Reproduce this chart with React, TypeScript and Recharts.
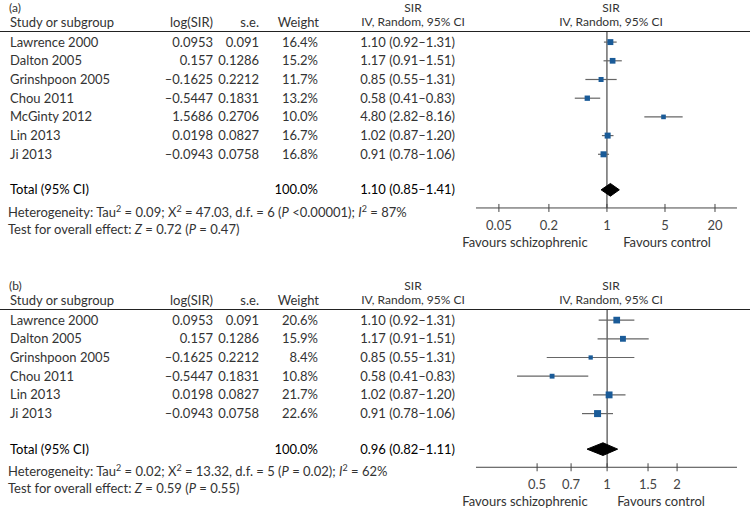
import React from 'react';
import { ScatterChart, Scatter, XAxis, YAxis, ReferenceLine } from 'recharts';

// panel (a): all studies
const studiesA = ['Lawrence 2000', 'Dalton 2005', 'Grinshpoon 2005', 'Chou 2011', 'McGinty 2012', 'Lin 2013', 'Ji 2013'];
const logSirA = [0.0953, 0.157, -0.1625, -0.5447, 1.5686, 0.0198, -0.0943];
const seA = [0.091, 0.1286, 0.2212, 0.1831, 0.2706, 0.0827, 0.0758];
const weightA = [16.4, 15.2, 11.7, 13.2, 10.0, 16.7, 16.8];
const sirA = [1.1, 1.17, 0.85, 0.58, 4.8, 1.02, 0.91];
const lowA = [0.92, 0.91, 0.55, 0.41, 2.82, 0.87, 0.78];
const highA = [1.31, 1.51, 1.31, 0.83, 8.16, 1.2, 1.06];
const totalA = [1.1, 0.85, 1.41];
const ticksA = [0.05, 0.2, 1, 5, 20];
const domainA = [0.0265, 36.8];
const hetA = { tau2: '0.09', chi2: '47.03', df: '6', p: '<0.00001', i2: '87%', z: '0.72', pz: '0.47' };

// panel (b): McGinty 2012 left out
const studiesB = ['Lawrence 2000', 'Dalton 2005', 'Grinshpoon 2005', 'Chou 2011', 'Lin 2013', 'Ji 2013'];
const logSirB = [0.0953, 0.157, -0.1625, -0.5447, 0.0198, -0.0943];
const seB = [0.091, 0.1286, 0.2212, 0.1831, 0.0827, 0.0758];
const weightB = [20.6, 15.9, 8.4, 10.8, 21.7, 22.6];
const sirB = [1.1, 1.17, 0.85, 0.58, 1.02, 0.91];
const lowB = [0.92, 0.91, 0.55, 0.41, 0.87, 0.78];
const highB = [1.31, 1.51, 1.31, 0.83, 1.2, 1.06];
const totalB = [0.96, 0.82, 1.11];
const ticksB = [0.5, 0.7, 1, 1.5, 2];
const domainB = [0.273, 3.62];
const hetB = { tau2: '0.02', chi2: '13.32', df: '5', p: '= 0.02', i2: '62%', z: '0.59', pz: '0.55' };

const FONT = 'Lato, "Open Sans", sans-serif';
const FS = 13;
const HEAD_FS = 12;
const TEXT = '#333';
const BLUE = '#1a5b98';
const ROW_STEP = 18.7;
const PLOT_TOP = 32;
const PAD_TOP = 0.54;
const PAD_BOTTOM = 1.87;

const fmt2 = (v: number) => v.toFixed(2);
const ci = (s: number, l: number, h: number) => `${fmt2(s)} (${fmt2(l)}–${fmt2(h)})`;
const dash = (v: number) => String(v).replace('-', '–');

const RowTick = (props: any) => {
  const { y, payload, p } = props;
  const n = p.studies.length;
  const i = payload.value;
  const common = { fontFamily: FONT, fontSize: FS, dy: '0.35em' };
  if (i >= n) {
    return (
      <g fill="#000">
        <text x={10} y={y} {...common}>Total (95% CI)</text>
        <text x={318} y={y} {...common} textAnchor="end">100.0%</text>
        <text x={455} y={y} {...common} textAnchor="end">{ci(p.total[0], p.total[1], p.total[2])}</text>
      </g>
    );
  }
  return (
    <g fill={TEXT}>
      <text x={10} y={y} {...common}>{p.studies[i]}</text>
      <text x={213} y={y} {...common} textAnchor="end">{dash(p.logSir[i])}</text>
      <text x={259} y={y} {...common} textAnchor="end">{String(p.se[i])}</text>
      <text x={318} y={y} {...common} textAnchor="end">{p.weight[i].toFixed(1)}%</text>
      <text x={455} y={y} {...common} textAnchor="end">{ci(p.sir[i], p.low[i], p.high[i])}</text>
    </g>
  );
};

const AxisTick = (props: any) => {
  const { x, y, payload } = props;
  return (
    <g>
      <line x1={x} x2={x} y1={y - 4} y2={y + 4} stroke="#444" />
      <text x={x} y={y + 17} dy="0.35em" textAnchor="middle" fill="#444" fontFamily={FONT} fontSize={FS}>
        {String(payload.value)}
      </text>
    </g>
  );
};

const Square = (props: any) => {
  const { cx, cy, payload } = props;
  const s = payload.size;
  return <rect x={cx - s / 2} y={cy - s / 2} width={s} height={s} fill={BLUE} />;
};

const Panel = ({ p, top }: any) => {
  const n = p.studies.length;
  const maxW = Math.max(...p.weight);
  const rows = p.studies.map((_: string, i: number) => ({
    x: p.sir[i],
    y: i,
    lo: p.low[i],
    hi: p.high[i],
    size: p.maxBox * Math.sqrt(p.weight[i] / maxW),
  }));
  const totalY = n + 0.9;
  const dh = 0.34;
  const diamond = [
    { x: p.total[1], y: totalY },
    { x: p.total[0], y: totalY - dh },
    { x: p.total[2], y: totalY },
    { x: p.total[0], y: totalY + dh },
    { x: p.total[1], y: totalY },
  ];
  const plotH = ROW_STEP * (n + PAD_TOP + PAD_BOTTOM);
  const axisY = PLOT_TOP + plotH;
  const totalPx = PLOT_TOP + (totalY + PAD_TOP) * ROW_STEP;
  const txt: React.CSSProperties = {
    position: 'absolute', fontFamily: FONT, fontSize: FS, color: TEXT, whiteSpace: 'nowrap', lineHeight: '14px',
  };
  const head: React.CSSProperties = { ...txt, fontSize: HEAD_FS, lineHeight: '14px' };
  const sup: React.CSSProperties = { fontSize: 9, verticalAlign: 'super', lineHeight: 0 };
  const h1 = 0.5;
  const h2 = 14.9;

  return (
    <div style={{ position: 'absolute', left: 0, top, width: 750, height: axisY + 44 }}>
      <div style={{ ...head, left: 9, top: h1 }}>{p.label}</div>
      <div style={{ ...txt, left: 10, top: h2 }}>Study or subgroup</div>
      <div style={{ ...txt, right: 750 - 213, top: h2 }}>log(SIR)</div>
      <div style={{ ...txt, right: 750 - 259, top: h2 }}>s.e.</div>
      <div style={{ ...txt, right: 750 - 319, top: h2 }}>Weight</div>
      <div style={{ ...head, left: 333, width: 160, textAlign: 'center', top: h1 }}>SIR</div>
      <div style={{ ...head, left: 333, width: 160, textAlign: 'center', top: h2 }}>IV, Random, 95% CI</div>
      <div style={{ ...head, left: 531, width: 160, textAlign: 'center', top: h1 }}>SIR</div>
      <div style={{ ...head, left: 531, width: 160, textAlign: 'center', top: h2 }}>IV, Random, 95% CI</div>
      <div style={{ position: 'absolute', left: 0, width: 750, top: PLOT_TOP - 1, height: 1, background: '#222' }} />

      <div style={{ position: 'absolute', left: 0, top: 0 }}>
        <ScatterChart width={750} height={axisY + 30} margin={{ top: PLOT_TOP, right: 13, bottom: 0, left: 0 }}>
          <XAxis
            type="number"
            dataKey="x"
            scale="log"
            domain={p.domain}
            ticks={p.ticks}
            interval={0}
            allowDataOverflow
            height={30}
            axisLine={{ stroke: '#444' }}
            tickLine={false}
            tickSize={0}
            tickMargin={0}
            tick={<AxisTick />}
          />
          <YAxis
            type="number"
            dataKey="y"
            reversed
            domain={[-PAD_TOP, n + PAD_BOTTOM]}
            ticks={[...rows.map((r: any) => r.y), totalY]}
            interval={0}
            allowDataOverflow
            width={476}
            axisLine={false}
            tickLine={false}
            tick={<RowTick p={p} />}
          />
          <ReferenceLine x={1} stroke="#222" />
          {rows.map((r: any, i: number) => (
            <ReferenceLine
              key={i}
              segment={[{ x: r.lo, y: r.y }, { x: r.hi, y: r.y }]}
              stroke="#666"
              strokeWidth={1.2}
            />
          ))}
          <Scatter data={rows} shape={<Square />} isAnimationActive={false} />
          <Scatter
            data={diamond}
            line={{ stroke: '#000', fill: '#000', strokeWidth: 1 }}
            shape={() => <g />}
            isAnimationActive={false}
          />
        </ScatterChart>
      </div>

      <div style={{ ...txt, left: 8, top: totalPx + 22 - 7 }}>
        Heterogeneity: Tau<span style={sup}>2</span> = {p.het.tau2}; X<span style={sup}>2</span> = {p.het.chi2}, d.f. = {p.het.df} (<i>P</i> {p.het.p}); <i>I</i>
        <span style={sup}>2</span> = {p.het.i2}
      </div>
      <div style={{ ...txt, left: 8, top: totalPx + 39 - 7 }}>
        Test for overall effect: <i>Z</i> = {p.het.z} (<i>P</i> = {p.het.pz})
      </div>
      <div style={{ ...txt, left: 445, width: 160, textAlign: 'center', top: axisY + 34 - 7 }}>Favours schizophrenic</div>
      <div style={{ ...txt, left: 587 + p.ctrlShift, width: 160, textAlign: 'center', top: axisY + 34 - 7 }}>Favours control</div>
    </div>
  );
};

const panelA = {
  label: '(a)', studies: studiesA, logSir: logSirA, se: seA, weight: weightA, sir: sirA, low: lowA, high: highA,
  total: totalA, ticks: ticksA, domain: domainA, het: hetA, maxBox: 6, ctrlShift: 0,
};
const panelB = {
  label: '(b)', studies: studiesB, logSir: logSirB, se: seB, weight: weightB, sir: sirB, low: lowB, high: highB,
  total: totalB, ticks: ticksB, domain: domainB, het: hetB, maxBox: 7, ctrlShift: -6,
};

export default function App() {
  return (
    <div style={{ position: 'absolute', left: 0, top: 0, width: 750, height: 509, background: '#fff', overflow: 'hidden' }}>
      <Panel p={panelA} top={0} />
      <Panel p={panelB} top={278} />
    </div>
  );
}
